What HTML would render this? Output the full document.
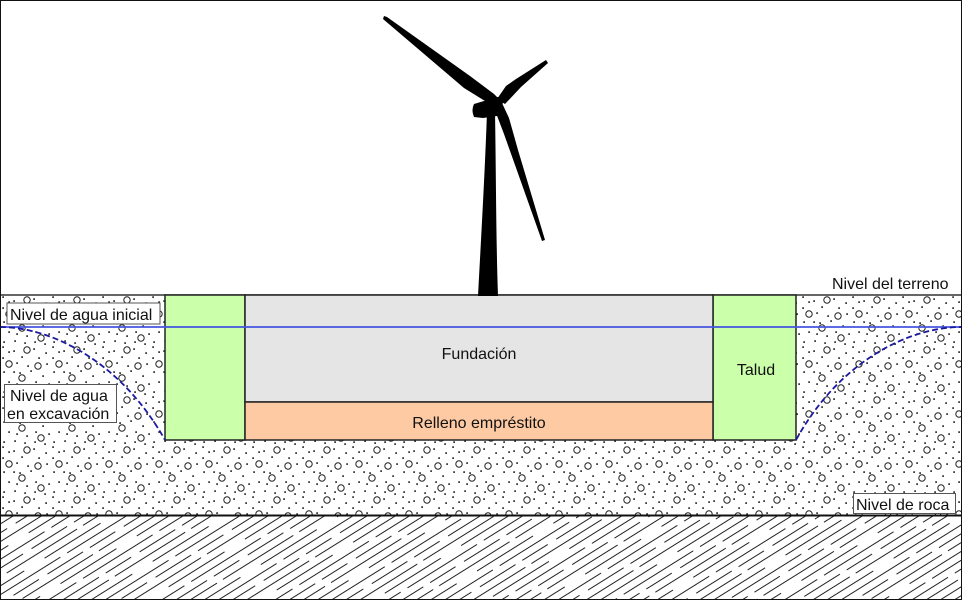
<!DOCTYPE html>
<html><head><meta charset="utf-8"><style>
html,body{margin:0;padding:0;background:#fff;}
svg{display:block;}
text{font-family:"Liberation Sans",Arial,sans-serif;font-size:16px;fill:#111;}
</style></head><body>
<svg width="962" height="600" viewBox="0 0 962 600" xmlns="http://www.w3.org/2000/svg">
<defs>
<pattern id="dots" patternUnits="userSpaceOnUse" x="0" y="295" width="50" height="50">
<g fill="#111">
<rect x="2.3" y="1.3" width="1.6" height="1.6"/><rect x="13.3" y="5.3" width="1.6" height="1.6"/><rect x="21.3" y="11.3" width="1.6" height="1.6"/><rect x="33.3" y="3.3" width="1.6" height="1.6"/><rect x="45.3" y="7.3" width="1.6" height="1.6"/>
<rect x="2.3" y="12.3" width="1.6" height="1.6"/><rect x="16.3" y="17.3" width="1.6" height="1.6"/><rect x="27.3" y="20.3" width="1.6" height="1.6"/><rect x="46.3" y="18.3" width="1.6" height="1.6"/>
<rect x="3.3" y="26.3" width="1.6" height="1.6"/><rect x="13.3" y="26.3" width="1.6" height="1.6"/><rect x="30.3" y="25.3" width="1.6" height="1.6"/><rect x="42.3" y="30.3" width="1.6" height="1.6"/>
<rect x="8.3" y="36.3" width="1.6" height="1.6"/><rect x="26.3" y="40.3" width="1.6" height="1.6"/><rect x="35.3" y="36.3" width="1.6" height="1.6"/><rect x="48.3" y="38.3" width="1.6" height="1.6"/>
<rect x="3.3" y="46.3" width="1.6" height="1.6"/><rect x="14.3" y="45.3" width="1.6" height="1.6"/><rect x="24.3" y="47.3" width="1.6" height="1.6"/><rect x="34.3" y="46.3" width="1.6" height="1.6"/><rect x="44.3" y="48.3" width="1.6" height="1.6"/>
<rect x="38.3" y="12.3" width="1.6" height="1.6"/><rect x="8.3" y="6.3" width="1.6" height="1.6"/><rect x="19.3" y="27.3" width="1.6" height="1.6"/><rect x="16.3" y="38.3" width="1.6" height="1.6"/>
</g>
<g fill="none" stroke="#222" stroke-width="1">
<circle cx="9" cy="19" r="3.2"/><circle cx="38" cy="21" r="3.2"/><circle cx="22" cy="33" r="3.2"/><circle cx="41" cy="43" r="3.2"/><circle cx="27" cy="5" r="3.2"/>
</g>
</pattern>
<pattern id="hatch" patternUnits="userSpaceOnUse" x="0" y="516" width="90" height="30" patternTransform="rotate(-32)">
<g stroke="#222" stroke-width="1" fill="none">
<line x1="0" y1="3.5" x2="55" y2="3.5"/><line x1="62" y1="3.5" x2="90" y2="3.5"/>
<line x1="12" y1="11" x2="78" y2="11"/>
<line x1="0" y1="18.5" x2="26" y2="18.5"/><line x1="34" y1="18.5" x2="90" y2="18.5"/>
<line x1="6" y1="26" x2="48" y2="26"/><line x1="56" y1="26" x2="86" y2="26"/>
</g>
</pattern>
</defs>

<rect x="0" y="0" width="962" height="600" fill="#fff"/>

<rect x="0" y="295" width="962" height="220" fill="url(#dots)"/>
<rect x="0" y="515" width="962" height="85" fill="url(#hatch)"/>

<line x1="0" y1="295" x2="962" y2="295" stroke="#333" stroke-width="1.5"/>
<line x1="0" y1="515.5" x2="962" y2="515.5" stroke="#111" stroke-width="2"/>

<rect x="165" y="295" width="80" height="145" fill="#ccffaa" stroke="#222" stroke-width="1.5"/>
<rect x="713" y="295" width="83" height="145" fill="#ccffaa" stroke="#222" stroke-width="1.5"/>
<rect x="245" y="295" width="468" height="107" fill="#e5e5e5" stroke="#222" stroke-width="1.5"/>
<rect x="245" y="402" width="468" height="38" fill="#fdcaa4" stroke="#222" stroke-width="1.5"/>

<line x1="0" y1="327" x2="962" y2="327" stroke="#4455e0" stroke-width="1.8"/>
<path d="M0,327 C50,327 120,360 165,440" fill="none" stroke="#1a1aa0" stroke-width="1.8" stroke-dasharray="6,3"/>
<path d="M796,440 C840,360 910,327 962,327" fill="none" stroke="#1a1aa0" stroke-width="1.8" stroke-dasharray="6,3"/>

<g fill="#000">
<path d="M478,296 C481,240 485,170 487,112 L495,112 C496,170 496,240 498,296 Z"/>
<path d="M474,104 L484,101 L497,100 L501,108 L497,116 L483,118 L474,117 Q471,110 474,104 Z"/>
<circle cx="498" cy="102" r="5"/>
<path d="M384,16 L387,17 L470,76 L494,94 L501,101 L496,106 L485,101 L464,88 L383,19 Z"/>
<path d="M497,99 L506,86 L516,79 L546,60 L548,63 L521,87 L505,104 Z"/>
<path d="M495,106 L502,103 L509,118 L518,150 L545,240 L542,241 L504,134 L496,113 Z"/>
</g>

<rect x="7" y="303" width="153" height="21" fill="#fff" stroke="#555" stroke-width="1"/>
<text x="10" y="320">Nivel de agua inicial</text>

<rect x="4.5" y="384.5" width="112" height="38" fill="#fff" stroke="#555" stroke-width="1"/>
<text x="10" y="401">Nivel de agua</text>
<text x="7" y="419">en excavación</text>

<text x="832" y="289">Nivel del terreno</text>

<rect x="853.5" y="493.5" width="102" height="20" fill="#fff" stroke="#555" stroke-width="1"/>
<text x="856" y="510">Nivel de roca</text>

<text x="479" y="359" text-anchor="middle">Fundación</text>
<text x="756" y="375" text-anchor="middle">Talud</text>
<text x="479" y="428" text-anchor="middle">Relleno empréstito</text>

<rect x="0.5" y="0.5" width="961" height="599" fill="none" stroke="#111" stroke-width="1"/>
</svg>
</body></html>
